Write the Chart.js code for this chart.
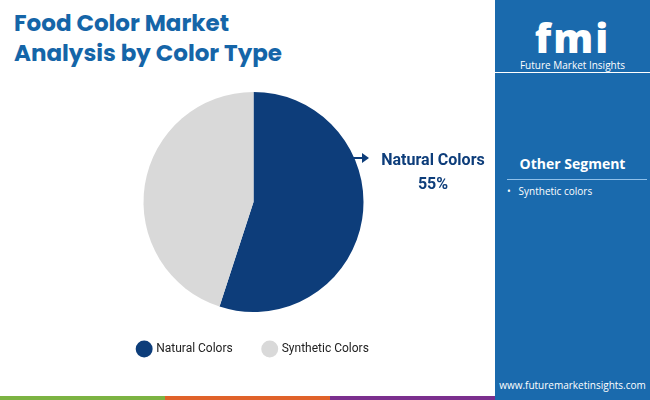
<!DOCTYPE html><html><head><meta charset="utf-8">
<script src="https://cdn.jsdelivr.net/npm/chart.js@4/dist/chart.umd.min.js"></script>
<style>
body{margin:0;width:650px;height:400px;position:relative;overflow:hidden;background:#fff;font-family:Roboto,sans-serif}
#title{position:absolute;left:14px;top:8px;font:700 23px Poppins,"Open Sans",sans-serif;color:#1565a8;line-height:30px}
#panel{position:absolute;left:495px;top:0;width:155px;height:400px;background:#1a6aad}
#wrap{position:absolute;left:6px;top:86px;width:495px;height:279px}
.stripe{position:absolute;top:396px;height:4px}
</style></head><body>
<div id="title">Food Color Market<br>Analysis by Color Type</div>
<div id="panel">
 <div style="position:absolute;left:0;width:155px;top:10px;text-align:center;color:#fff;font:900 40px 'Open Sans';letter-spacing:2px">fmi</div>
 <div style="position:absolute;left:0;width:155px;top:58px;text-align:center;color:#fff;font:10px 'Open Sans'">Future Market Insights</div>
 <div style="position:absolute;left:0;width:155px;top:72px;height:1px;background:#fff"></div>
 <div style="position:absolute;left:0;width:155px;top:154px;text-align:center;color:#fff;font:700 14px 'Open Sans'">Other Segment</div>
 <div style="position:absolute;left:12px;width:140px;top:179px;height:1px;background:#8fc0ea"></div>
 <div style="position:absolute;left:12px;top:184px;color:#fff;font:10px 'Open Sans'">•&nbsp;&nbsp;&nbsp;Synthetic colors</div>
 <div style="position:absolute;left:0;width:155px;top:378px;text-align:center;color:#fff;font:10px 'Open Sans'">www.futuremarketinsights.com</div>
</div>
<div class="stripe" style="left:0;width:165px;background:#7cb342"></div>
<div class="stripe" style="left:165px;width:165px;background:#e0622a"></div>
<div class="stripe" style="left:330px;width:165px;background:#7b2f8e"></div>
<div id="wrap"><canvas id="c"></canvas></div>
<div style="position:absolute;left:350px;top:157px;width:14px;height:2px;background:#0d3d7a"></div>
<div style="position:absolute;left:362px;top:153px;width:0;height:0;border-left:7px solid #0d3d7a;border-top:5px solid transparent;border-bottom:5px solid transparent"></div>
<div style="position:absolute;left:372px;top:148px;width:122px;text-align:center;color:#0d3d7a;font:700 16px Roboto;line-height:24px">Natural Colors<br>55%</div>
<script>
const categories=["Natural Colors","Synthetic Colors"];
const shares=[55,45];
const colors=["#0d3d7a","#d9d9d9"];
new Chart(document.getElementById('c'),{type:'pie',
data:{labels:categories,datasets:[{data:shares,backgroundColor:colors,borderWidth:0}]},
options:{responsive:true,maintainAspectRatio:false,animation:false,
layout:{padding:{top:6,bottom:0}},
plugins:{tooltip:{enabled:false},legend:{position:'bottom',labels:{usePointStyle:true,pointStyle:'circle',boxWidth:14,boxHeight:14,padding:31,color:'#222',font:{family:'Roboto',size:12}}}}}});
</script></body></html>
